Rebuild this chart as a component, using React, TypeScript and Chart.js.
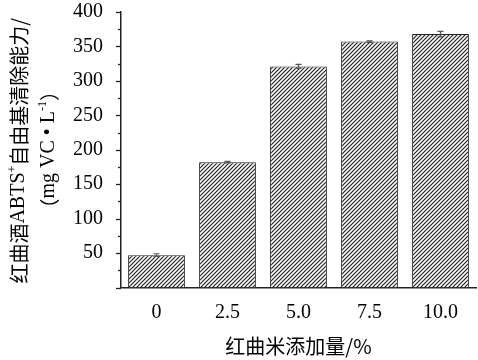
import React, { useEffect, useRef } from "react";
import { Chart, registerables } from "chart.js";

Chart.register(...registerables);

const categories = ["0", "2.5", "5.0", "7.5", "10.0"];
const values = [47, 182, 321, 357, 368];
const errors = [2, 1, 3, 1, 4];
const yTickLabels = [50, 100, 150, 200, 250, 300, 350, 400];
const xTitle = "红曲米添加量/%";
const yTitleLine1 = ["红曲酒", "ABTS", "+", "自由基清除能力/"];
const yTitleLine2 = ["（", "mg VC • L", "-1", "）"];

const CJK = '"Noto Sans CJK SC", sans-serif';
const SERIF = '"Liberation Serif", "Times New Roman", serif';

function makePattern(): CanvasPattern | string {
  const s = 4;
  const c = document.createElement("canvas");
  c.width = s;
  c.height = s;
  const g = c.getContext("2d");
  if (!g) return "#888";
  g.fillStyle = "#ffffff";
  g.fillRect(0, 0, s, s);
  g.strokeStyle = "#222";
  g.lineWidth = 1.2;
  g.beginPath();
  g.moveTo(-1, s + 1);
  g.lineTo(s + 1, -1);
  g.moveTo(-1, 1);
  g.lineTo(1, -1);
  g.moveTo(s - 1, s + 1);
  g.lineTo(s + 1, s - 1);
  g.stroke();
  const p = g.createPattern(c, "repeat");
  return p || "#888";
}

function drawSegments(
  ctx: CanvasRenderingContext2D,
  segs: string[],
  fonts: string[],
  supers: boolean[],
  cx: number,
  cy: number
) {
  const widths = segs.map((t, i) => {
    ctx.font = fonts[i];
    return ctx.measureText(t).width;
  });
  const total = widths.reduce((a, b) => a + b, 0);
  ctx.save();
  ctx.translate(cx, cy);
  ctx.rotate(-Math.PI / 2);
  ctx.textBaseline = "middle";
  ctx.textAlign = "left";
  ctx.fillStyle = "#000";
  let x = -total / 2;
  segs.forEach((t, i) => {
    ctx.font = fonts[i];
    ctx.fillText(t, x, supers[i] ? -6 : 0);
    x += widths[i];
  });
  ctx.restore();
}

const customPlugin = {
  id: "custom",
  afterDatasetsDraw(chart: any) {
    const ctx = chart.ctx as CanvasRenderingContext2D;
    const y = chart.scales.y;
    const meta = chart.getDatasetMeta(0);
    ctx.save();
    ctx.strokeStyle = "#555";
    ctx.lineWidth = 1.2;
    meta.data.forEach((bar: any, i: number) => {
      const x = bar.x;
      const top = y.getPixelForValue(values[i] + errors[i]);
      const bot = y.getPixelForValue(values[i] - errors[i]);
      ctx.beginPath();
      ctx.moveTo(x, top);
      ctx.lineTo(x, bot);
      ctx.moveTo(x - 3, top);
      ctx.lineTo(x + 3, top);
      ctx.moveTo(x - 3, bot);
      ctx.lineTo(x + 3, bot);
      ctx.stroke();
    });
    ctx.restore();
  },
  afterDraw(chart: any) {
    const ctx = chart.ctx as CanvasRenderingContext2D;
    const y = chart.scales.y;
    const area = chart.chartArea;
    ctx.save();
    ctx.strokeStyle = "#222";
    ctx.lineWidth = 1.3;
    y.ticks.forEach((t: any) => {
      const py = Math.round(y.getPixelForValue(t.value)) + 0.5;
      const len = t.value % 50 === 0 ? 5 : 3;
      ctx.beginPath();
      ctx.moveTo(area.left - len, py);
      ctx.lineTo(area.left, py);
      ctx.stroke();
    });
    ctx.restore();
    ctx.save();
    ctx.font = `20px ${CJK}`;
    ctx.fillStyle = "#000";
    ctx.textAlign = "center";
    ctx.textBaseline = "middle";
    ctx.fillText(xTitle, (area.left + area.right) / 2, 346);
    ctx.restore();
    const mid = (area.top + area.bottom) / 2;
    drawSegments(
      ctx,
      yTitleLine1,
      [`20px ${CJK}`, `20px ${SERIF}`, `12px ${SERIF}`, `20px ${CJK}`],
      [false, false, true, false],
      19,
      mid + 1
    );
    drawSegments(
      ctx,
      yTitleLine2,
      [`20px ${CJK}`, `20px ${SERIF}`, `12px ${SERIF}`, `20px ${CJK}`],
      [false, false, true, false],
      49,
      mid
    );
  },
};

export default function App() {
  const ref = useRef<HTMLCanvasElement | null>(null);
  useEffect(() => {
    if (!ref.current) return;
    const chart = new Chart(ref.current, {
      type: "bar",
      data: {
        labels: categories,
        datasets: [
          {
            data: values,
            backgroundColor: makePattern() as any,
            borderColor: "#222",
            borderWidth: 1,
            barPercentage: 0.8,
            categoryPercentage: 1,
          },
        ],
      },
      options: {
        animation: false,
        responsive: true,
        maintainAspectRatio: false,
        layout: { padding: { top: 12, right: 2, left: 0, bottom: 0 } },
        plugins: { legend: { display: false }, tooltip: { enabled: false } },
        scales: {
          x: {
            grid: { display: false, drawTicks: false },
            border: { display: true, color: "#222", width: 1.5 },
            ticks: {
              color: "#000",
              font: { family: SERIF, size: 20 },
              padding: 13,
              maxRotation: 0,
            },
            afterFit: (s: any) => {
              s.height = 72.5;
              s.paddingLeft = 0;
              s.paddingRight = 0;
            },
          },
          y: {
            min: 0,
            max: 400,
            grid: { display: false, drawTicks: false },
            border: { display: true, color: "#222", width: 1.5 },
            ticks: {
              stepSize: 25,
              color: "#000",
              font: { family: SERIF, size: 20 },
              padding: 18,
              autoSkip: false,
              callback: (v: any) =>
                yTickLabels.includes(Number(v)) ? String(v) : "",
            },
            afterFit: (s: any) => {
              s.width = 121;
              s.paddingTop = 0;
              s.paddingBottom = 0;
            },
          },
        },
      },
      plugins: [customPlugin],
    });
    return () => chart.destroy();
  }, []);
  return (
    <div
      style={{
        position: "absolute",
        left: 0,
        top: 0,
        width: 478,
        height: 360,
        background: "#fff",
      }}
    >
      <canvas ref={ref} />
    </div>
  );
}
